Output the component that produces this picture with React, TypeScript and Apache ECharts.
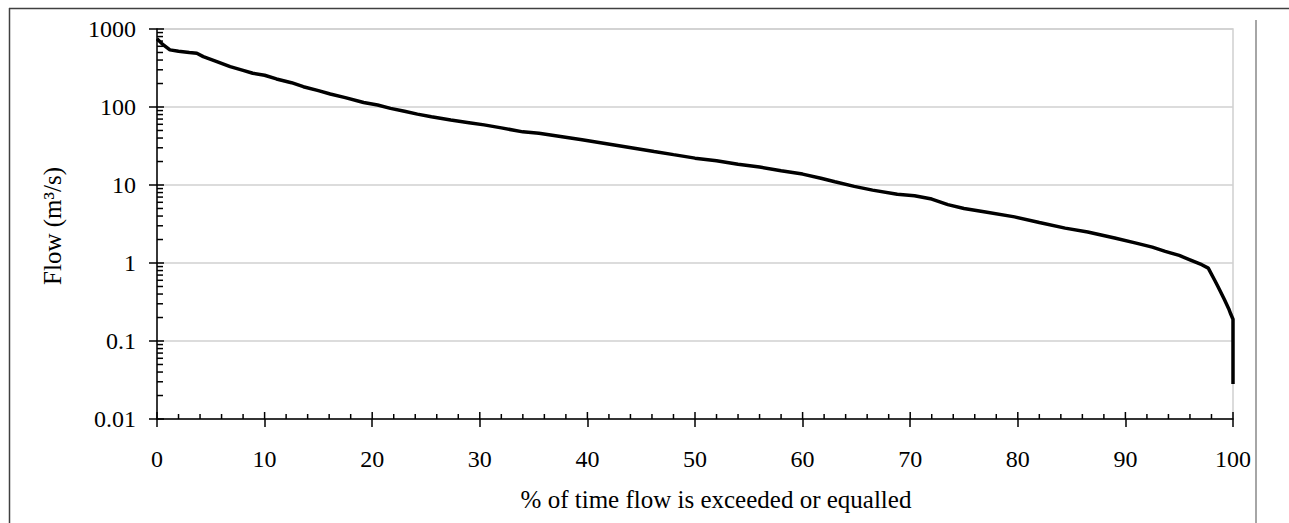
import React, { useEffect, useRef } from "react";
import * as echarts from "echarts";

// % of time flow is exceeded or equalled
const exceedancePct = [
  0, 0.5, 1.2, 2, 3, 3.7, 4.3, 5.5, 6.8, 8, 8.9, 10, 11.1, 12.5, 13.6, 15, 16.1, 17.5, 19.2, 20.5,
  21.7, 23, 24.2, 25.5, 27.3, 29, 30.4, 32, 34, 35.5, 37.5, 39.5, 41.5, 43.5, 46.2, 48, 50, 52, 54,
  56, 58, 60, 61.7, 63, 64.8, 66.5, 68.8, 70.4, 72, 73.5, 75, 77, 79.7, 82, 84.4, 86.5, 89, 91, 92.5,
  93.7, 95, 96, 97.1, 97.7, 98.3, 98.6, 99.2, 99.6, 99.8, 100, 100,
];
// Flow (m3/s)
const flowValues = [
  750, 640, 540, 520, 500, 488, 442, 385, 329, 295, 271, 255, 229, 205, 182, 162, 147, 132, 114, 106,
  96, 88, 81, 75, 68, 63, 59, 54, 48, 46, 41.8, 38, 34.4, 31, 26.9, 24.5, 22.1, 20.5, 18.5,
  17, 15.2, 13.8, 12.2, 11, 9.6, 8.6, 7.6, 7.3, 6.6, 5.6, 5.0, 4.5, 3.9, 3.3, 2.8, 2.5, 2.09, 1.8, 1.6,
  1.41, 1.25, 1.1, 0.95, 0.86, 0.6, 0.5, 0.34, 0.26, 0.22, 0.19, 0.028,
];
const yTickLabels = ["0.01", "0.1", "1", "10", "100", "1000"];
const xTickLabels = ["0", "10", "20", "30", "40", "50", "60", "70", "80", "90", "100"];
const xAxisTitle = "% of time flow is exceeded or equalled";
const yAxisTitle = "Flow (m\u00b3/s)";

export default function App() {
  const ref = useRef<HTMLDivElement>(null);
  useEffect(() => {
    const chart = echarts.init(ref.current!, null, { renderer: "svg" });
    const font = '"Liberation Serif", "Times New Roman", serif';

    const tickData: number[][] = [];
    for (let x = 0; x <= 100; x += 2) tickData.push([x, 0.01, x % 10 === 0 ? 7 : 5, 0]);
    for (let d = -2; d <= 3; d++) {
      for (let m = 1; m <= 9; m++) {
        if (d === 3 && m > 1) break;
        tickData.push([0, Number((m * Math.pow(10, d)).toPrecision(3)), m === 1 ? 7 : 6, 1]);
      }
    }

    const lineData = exceedancePct.map((p, i) => [p, flowValues[i]]);

    chart.setOption({
      animation: false,
      grid: {
        left: 157,
        right: 56,
        top: 29,
        bottom: 104,
        show: true,
        borderColor: "#d0d0d0",
        borderWidth: 1.5,
        backgroundColor: "transparent",
      },
      xAxis: {
        type: "value",
        min: 0,
        max: 100,
        interval: 10,
        axisLine: { show: true, lineStyle: { color: "#000", width: 1.5 } },
        axisTick: { show: true, length: 8, lineStyle: { color: "#000", width: 1.5 } },
        splitLine: { show: false },
        axisLabel: {
          margin: 28,
          color: "#000",
          fontFamily: font,
          fontSize: 24,
          formatter: (v: number) => xTickLabels[Math.round(v / 10)] ?? String(v),
        },
      },
      yAxis: {
        type: "log",
        logBase: 10,
        min: 0.01,
        max: 1000,
        axisLine: { show: true, lineStyle: { color: "#000", width: 1.5 } },
        axisTick: { show: true, length: 8, lineStyle: { color: "#000", width: 1.5 } },
        splitLine: { show: true, lineStyle: { color: "#d0d0d0", width: 1.5 } },
        axisLabel: {
          margin: 21,
          color: "#000",
          fontFamily: font,
          fontSize: 24,
          formatter: (v: number) => {
            const idx = Math.round(Math.log10(v)) + 2;
            return yTickLabels[idx] ?? String(v);
          },
        },
      },
      graphic: [
        {
          type: "line",
          shape: { x1: 9, y1: 8.5, x2: 1289, y2: 8.5 },
          style: { stroke: "#404040", lineWidth: 1.5 },
        },
        {
          type: "line",
          shape: { x1: 9.5, y1: 8, x2: 9.5, y2: 523 },
          style: { stroke: "#404040", lineWidth: 1.5 },
        },
        {
          type: "line",
          shape: { x1: 1256, y1: 20, x2: 1256, y2: 523 },
          style: { stroke: "#a6a6a6", lineWidth: 2 },
        },
        {
          type: "text",
          x: 716,
          y: 499,
          style: {
            text: xAxisTitle,
            font: `25px ${font}`,
            fill: "#000",
            align: "center",
            verticalAlign: "middle",
          },
        },
        {
          type: "text",
          x: 52,
          y: 226,
          rotation: Math.PI / 2,
          style: {
            text: yAxisTitle,
            font: `25px ${font}`,
            fill: "#000",
            align: "center",
            verticalAlign: "middle",
          },
        },
      ],
      series: [
        {
          type: "custom",
          silent: true,
          clip: false,
          encode: { x: 0, y: 1 },
          data: tickData,
          renderItem: (_params: any, api: any) => {
            const x = api.value(0);
            const y = api.value(1);
            const len = api.value(2);
            const kind = api.value(3);
            const p = api.coord([x, y]);
            if (kind === 0) {
              return {
                type: "line",
                shape: { x1: p[0], y1: p[1], x2: p[0], y2: p[1] - len },
                style: { stroke: "#000", lineWidth: 1.5 },
              };
            }
            return {
              type: "line",
              shape: { x1: p[0], y1: p[1], x2: p[0] + len, y2: p[1] },
              style: { stroke: "#000", lineWidth: 1.5 },
            };
          },
        },
        {
          type: "line",
          data: lineData,
          showSymbol: false,
          symbol: "none",
          z: 5,
          lineStyle: { color: "#000", width: 3.5 },
        },
      ],
    });
    return () => chart.dispose();
  }, []);
  return (
    <div
      ref={ref}
      style={{ position: "absolute", left: 0, top: 0, width: 1289, height: 523, background: "#fff" }}
    />
  );
}
